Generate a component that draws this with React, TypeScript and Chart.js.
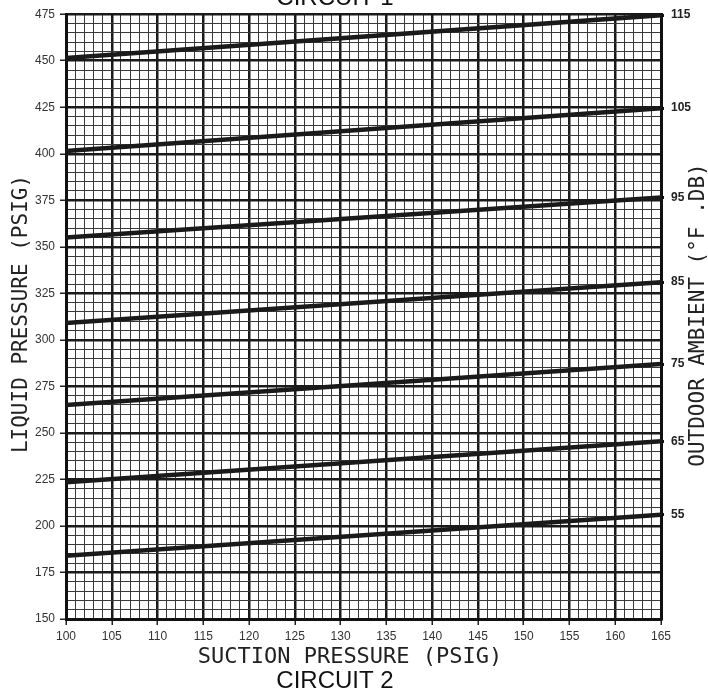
import React, { useEffect, useRef } from "react";
import { Chart, registerables } from "chart.js";

Chart.register(...registerables);

// Suction pressure (PSIG) at the two ends of every line
const suctionPsig = [100, 165];
// Liquid pressure (PSIG) read at suction 100 and 165, one line per outdoor ambient
const liquid115 = [451.5, 474.5];
const liquid105 = [401.5, 424.5];
const liquid95 = [355, 376.5];
const liquid85 = [309, 331];
const liquid75 = [265, 287];
const liquid65 = [223.5, 245.5];
const liquid55 = [184, 206];
const ambientTemps = [115, 105, 95, 85, 75, 65, 55];
const seriesList = [liquid115, liquid105, liquid95, liquid85, liquid75, liquid65, liquid55];

const xMin = 100, xMax = 165, xMajor = 5, xMinor = 1;
const yMin = 150, yMax = 475, yMajor = 25, yMinor = 5;

const xTitle = "SUCTION PRESSURE (PSIG)";
const yTitle = "LIQUID PRESSURE (PSIG)";
const y2Title = "OUTDOOR AMBIENT (\u00B0F .DB)";
const topTitle = "CIRCUIT 1";
const bottomTitle = "CIRCUIT 2";

const endValues = seriesList.map((s) => s[s.length - 1]);

const MONO = "'DejaVu Sans Mono', monospace";
const SANS = "'Liberation Sans', Arial, sans-serif";

const titlesPlugin = {
  id: "customTitles",
  afterDraw(chart: any) {
    const ctx = chart.ctx;
    ctx.save();
    ctx.fillStyle = "#222";
    ctx.textAlign = "center";
    ctx.textBaseline = "middle";
    ctx.font = "22px " + MONO;
    ctx.fillText(xTitle, 350, 657);
    ctx.font = "21px " + MONO;
    ctx.save();
    ctx.translate(22, 314);
    ctx.rotate(-Math.PI / 2);
    ctx.fillText(yTitle, 0, 0);
    ctx.restore();
    ctx.save();
    ctx.translate(699, 315);
    ctx.rotate(-Math.PI / 2);
    ctx.fillText(y2Title, 0, 0);
    ctx.restore();
    ctx.font = "24px " + SANS;
    ctx.fillStyle = "#111";
    ctx.fillText(bottomTitle, 335, 681);
    ctx.textBaseline = "alphabetic";
    ctx.fillText(topTitle, 335, 5);
    ctx.restore();
  },
};

export default function App() {
  const ref = useRef<HTMLCanvasElement | null>(null);
  useEffect(() => {
    if (!ref.current) return;
    const isMajorX = (v: number) => Math.abs(Math.round(v) % xMajor) === 0;
    const isMajorY = (v: number) => Math.abs(Math.round(v) % yMajor) === 0;
    const chart = new Chart(ref.current, {
      type: "line",
      data: {
        datasets: seriesList.map((s, i) => ({
          label: String(ambientTemps[i]),
          data: s.map((y, j) => ({ x: suctionPsig[j], y })),
          borderColor: "#1a1a1a",
          borderWidth: 4.5,
          pointRadius: 0,
          tension: 0,
          fill: false,
          yAxisID: "y",
        })),
      },
      options: {
        animation: false,
        responsive: false,
        maintainAspectRatio: false,
        layout: { padding: { top: 13, left: 0, right: 0, bottom: 0 } },
        plugins: { legend: { display: false }, tooltip: { enabled: false }, title: { display: false } },
        scales: {
          x: {
            type: "linear",
            min: xMin,
            max: xMax,
            position: "bottom",
            afterFit: (s: any) => { s.height = 76; },
            ticks: {
              stepSize: xMinor,
              autoSkip: false,
              maxRotation: 0,
              minRotation: 0,
              padding: 4,
              color: "#333",
              font: { family: SANS, size: 12 },
              callback: (v: any) => (isMajorX(Number(v)) ? String(v) : ""),
            },
            grid: {
              color: (c: any) => (isMajorX(c.tick?.value ?? 0) ? "#1a1a1a" : "#3a3a3a"),
              lineWidth: (c: any) => (isMajorX(c.tick?.value ?? 0) ? 2.5 : 1),
              tickColor: (c: any) => (isMajorX(c.tick?.value ?? 0) ? "#222" : "rgba(0,0,0,0)"),
              tickLength: 6,
              tickWidth: 1.5,
            },
            border: { display: true, color: "#111", width: 3 },
          },
          y: {
            type: "linear",
            min: yMin,
            max: yMax,
            position: "left",
            afterFit: (s: any) => { s.width = 66; },
            ticks: {
              stepSize: yMinor,
              autoSkip: false,
              padding: 5,
              color: "#333",
              font: { family: SANS, size: 12 },
              callback: (v: any) => (isMajorY(Number(v)) ? String(v) : ""),
            },
            grid: {
              color: (c: any) => (isMajorY(c.tick?.value ?? 0) ? "#1a1a1a" : "#3a3a3a"),
              lineWidth: (c: any) => (isMajorY(c.tick?.value ?? 0) ? 2.5 : 1),
              tickColor: (c: any) => (isMajorY(c.tick?.value ?? 0) ? "#222" : "rgba(0,0,0,0)"),
              tickLength: 6,
              tickWidth: 1.5,
            },
            border: { display: true, color: "#111", width: 3 },
          },
          y2: {
            type: "linear",
            min: yMin,
            max: yMax,
            position: "right",
            afterFit: (s: any) => { s.width = 47; },
            afterBuildTicks: (s: any) => { s.ticks = endValues.map((v) => ({ value: v })); },
            ticks: {
              autoSkip: false,
              padding: 7,
              color: "#222",
              font: { family: SANS, size: 12, weight: "bold" },
              callback: (v: any) => {
                const i = endValues.indexOf(Number(v));
                return i >= 0 ? String(ambientTemps[i]) : "";
              },
            },
            grid: { drawOnChartArea: false, tickLength: 3, tickWidth: 3, tickColor: "#111" },
            border: { display: true, color: "#111", width: 3 },
          },
        },
      },
      plugins: [titlesPlugin],
    } as any);
    return () => chart.destroy();
  }, []);
  return (
    <div style={{ position: "fixed", left: 0, top: 0, width: 708, height: 695, background: "#fff" }}>
      <canvas ref={ref} width={708} height={695} style={{ width: 708, height: 695, display: "block" }} />
    </div>
  );
}
